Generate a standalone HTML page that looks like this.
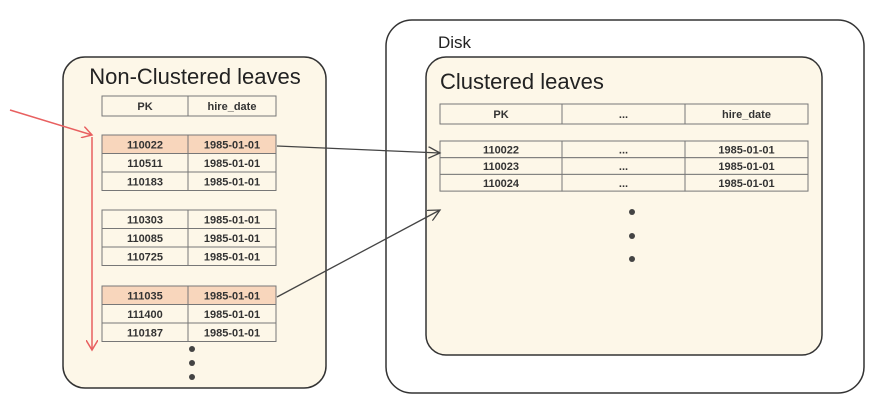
<!DOCTYPE html>
<html><head><meta charset="utf-8"><style>
html,body{margin:0;padding:0;background:#fff;width:893px;height:407px;overflow:hidden}
svg{display:block}
.t{font-family:"Liberation Sans",sans-serif;font-weight:bold;font-size:11px;fill:#333;text-anchor:middle}
.h{font-family:"Liberation Sans",sans-serif;font-size:22px;fill:#222}
</style></head><body>
<svg width="893" height="407" viewBox="0 0 893 407">
<defs>
<marker id="ar" markerWidth="12" markerHeight="12" refX="10" refY="6" orient="auto" markerUnits="userSpaceOnUse"><path d="M0,0 L10,6 L0,12" fill="none" stroke="#e86060" stroke-width="1.5"/></marker>
<marker id="ag" markerWidth="14" markerHeight="12" refX="12" refY="6" orient="auto" markerUnits="userSpaceOnUse"><path d="M0,0 L12,6 L0,12" fill="none" stroke="#444" stroke-width="1.3"/></marker>
</defs>
<rect x="63" y="57" width="263" height="331" rx="22" fill="#fdf7e8" stroke="#333" stroke-width="1.5"/>
<text class="h" x="195" y="84" text-anchor="middle">Non-Clustered leaves</text>
<g id="left"></g>
<rect x="386" y="20" width="478" height="373" rx="26" fill="#fff" stroke="#333" stroke-width="1.5"/>
<text class="h" x="438" y="48" style="font-size:17px">Disk</text>
<rect x="426" y="57" width="396" height="298" rx="20" fill="#fdf7e8" stroke="#333" stroke-width="1.5"/>
<text class="h" x="440" y="89">Clustered leaves</text>
<g id="right"></g>
<line x1="10" y1="110" x2="92" y2="135" stroke="#e86060" stroke-width="1.5" marker-end="url(#ar)"/>
<line x1="92" y1="137" x2="92" y2="350" stroke="#e86060" stroke-width="1.5" marker-end="url(#ar)"/>
<line x1="277" y1="146" x2="440" y2="153" stroke="#444" stroke-width="1.3" marker-end="url(#ag)"/>
<line x1="277" y1="297" x2="440" y2="210" stroke="#444" stroke-width="1.3" marker-end="url(#ag)"/>
</svg>
<script>
const NS='http://www.w3.org/2000/svg';
function mk(p,tag,a){const e=document.createElementNS(NS,tag);for(const k in a)e.setAttribute(k,a[k]);p.appendChild(e);return e;}
function table(g,x,y,cols,rows,h,hl){
  const w=cols.reduce((a,b)=>a+b,0);
  rows.forEach((r,i)=>{let cx=x;r.forEach((c,j)=>{
    const rc=mk(g,'rect',{x:cx,y:y+i*h,width:cols[j],height:h,fill:(hl&&i===0)?'#f8d6bc':'#fdf7e8',stroke:'#777','stroke-width':1});
    
    
    const t=mk(g,'text',{x:cx+cols[j]/2,y:y+i*h+h/2+4,class:'t'});t.textContent=c;
    
    
    cx+=cols[j];});});
}
function dots(g,x,ys){ys.forEach(y=>{const c=mk(g,'circle',{cx:x,cy:y,r:3,fill:'#444'});});}
const L=document.getElementById('left'),R=document.getElementById('right');
table(L,102,96,[86,88],[['PK','hire_date']],20,false);
table(L,102,135,[86,88],[['110022','1985-01-01'],['110511','1985-01-01'],['110183','1985-01-01']],18.5,true);
table(L,102,210,[86,88],[['110303','1985-01-01'],['110085','1985-01-01'],['110725','1985-01-01']],18.5,false);
table(L,102,286,[86,88],[['111035','1985-01-01'],['111400','1985-01-01'],['110187','1985-01-01']],18.5,true);
dots(L,192,[349,363,377]);
table(R,440,104,[122,123,123],[['PK','...','hire_date']],20,false);
table(R,440,141,[122,123,123],[['110022','...','1985-01-01'],['110023','...','1985-01-01'],['110024','...','1985-01-01']],16.7,false);
dots(R,632,[212,236,259]);
</script>
</body></html>
